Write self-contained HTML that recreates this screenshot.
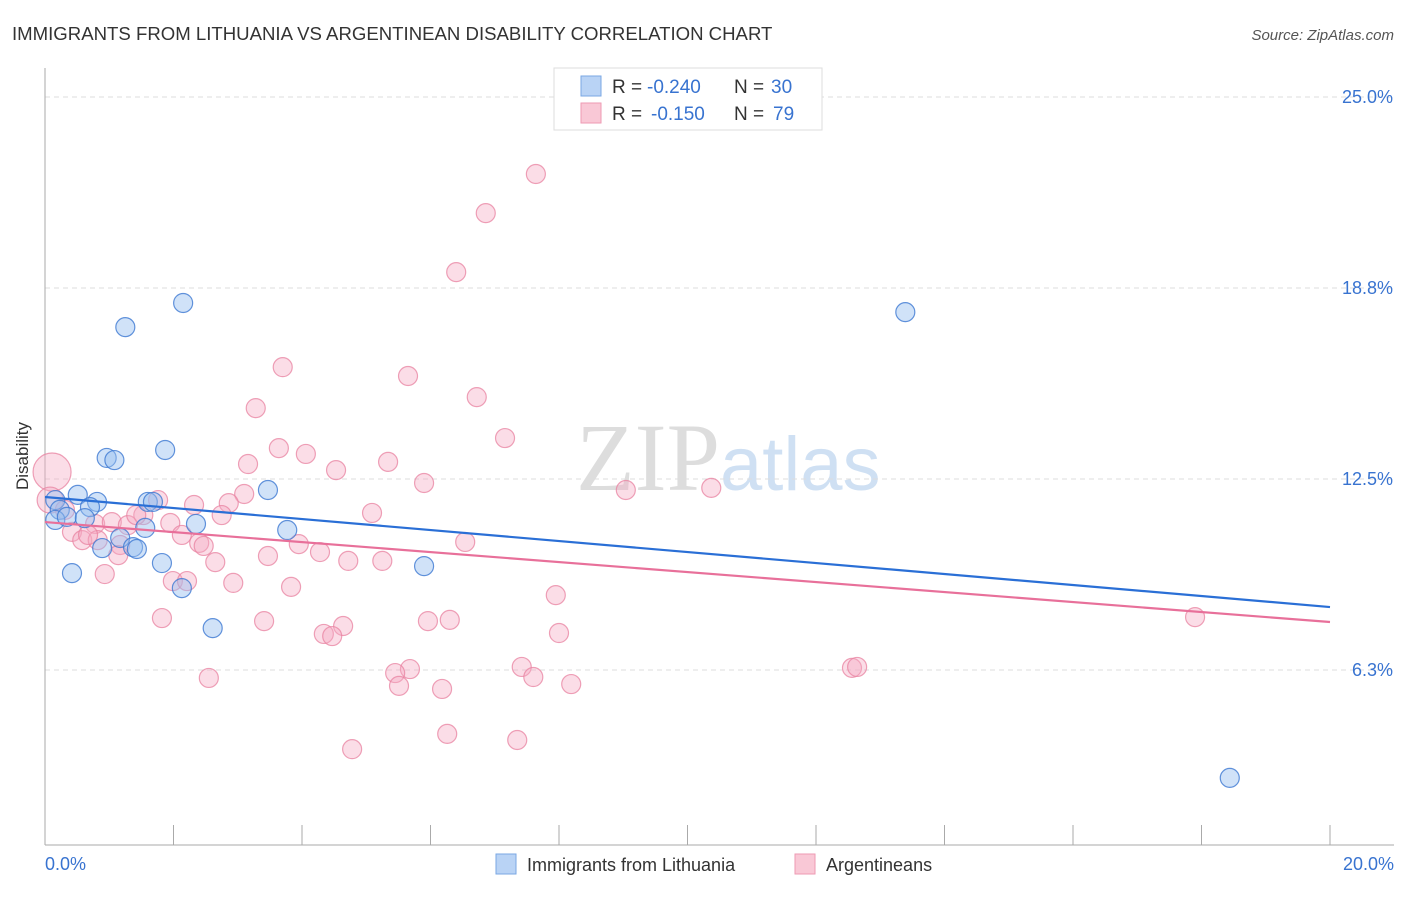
<!DOCTYPE html>
<html><head><meta charset="utf-8"><style>
body{margin:0;background:#fff;font-family:"Liberation Sans",sans-serif;}
</style></head><body>
<svg width="1406" height="892" xmlns="http://www.w3.org/2000/svg" id="chart">
<text x="12" y="40" font-size="18.6" fill="#333">IMMIGRANTS FROM LITHUANIA VS ARGENTINEAN DISABILITY CORRELATION CHART</text>
<text x="1394" y="40" font-size="15" fill="#555" font-style="italic" text-anchor="end">Source: ZipAtlas.com</text>
<text x="720" y="490" font-size="96" fill="#ddd" text-anchor="end" font-family="Liberation Serif,serif">ZIP</text>
<text x="720" y="490" font-size="76" fill="#cfe0f3">atlas</text>
<g id="grid"></g><g id="axes"></g><g id="pts"></g><g id="lines"></g>
<text x="28" y="456" font-size="17" fill="#333" text-anchor="middle" transform="rotate(-90 28 456)">Disability</text>
<g>
<rect x="554" y="68" width="268" height="62" fill="#fff" stroke="#ddd"/>
<rect x="581" y="76" width="20" height="20" fill="#b9d3f5" stroke="#7aa7e3"/>
<rect x="581" y="103" width="20" height="20" fill="#f9c8d6" stroke="#ee9ab3"/>
<text x="612" y="93" font-size="19" fill="#333">R =</text>
<text x="647" y="93" font-size="19" fill="#3873d0">-0.240</text>
<text x="734" y="93" font-size="19" fill="#333">N =</text>
<text x="771" y="93" font-size="19" fill="#3873d0">30</text>
<text x="612" y="120" font-size="19" fill="#333">R =</text>
<text x="651" y="120" font-size="19" fill="#3873d0">-0.150</text>
<text x="734" y="120" font-size="19" fill="#333">N =</text>
<text x="773" y="120" font-size="19" fill="#3873d0">79</text>
</g>
<g>
<rect x="496" y="854" width="20" height="20" fill="#b9d3f5" stroke="#7aa7e3"/>
<text x="527" y="871" font-size="18" fill="#333">Immigrants from Lithuania</text>
<rect x="795" y="854" width="20" height="20" fill="#f9c8d6" stroke="#ee9ab3"/>
<text x="826" y="871" font-size="18" fill="#333">Argentineans</text>
</g>
</svg>
<script>
const yTicks=[25,18.75,12.5,6.25];
const yTickLabels=["25.0%","18.8%","12.5%","6.3%"];
const xTicks=[0,2,4,6,8,10,12,14,16,18,20];
const blueX=[2.15,1.25,13.39,0.96,1.08,1.87,3.47,0.51,0.81,1.60,1.68,0.16,0.23,0.70,0.16,0.34,0.62,2.35,1.56,3.77,1.17,0.89,1.37,1.43,1.82,0.42,2.13,5.90,2.61,18.44];
const blueY=[18.26,17.47,17.96,13.19,13.12,13.45,12.14,11.98,11.75,11.75,11.75,11.81,11.49,11.58,11.16,11.26,11.22,11.03,10.90,10.83,10.57,10.24,10.27,10.21,9.75,9.42,8.93,9.65,7.62,2.72];
const pinkX=[7.64,6.86,6.40,3.70,5.65,3.28,6.72,7.16,3.64,4.06,3.16,4.53,5.34,5.90,9.04,10.37,3.10,1.76,2.86,2.32,0.11,0.08,5.09,2.75,1.53,0.31,0.78,1.04,1.29,1.95,1.42,0.42,0.58,0.82,0.67,1.17,2.13,2.40,2.47,3.95,4.28,1.14,3.47,6.54,2.65,4.72,5.25,0.93,1.99,2.21,2.93,3.83,7.95,1.82,3.41,4.64,4.34,4.47,5.96,6.30,8.00,17.90,12.56,12.64,7.42,5.68,5.45,5.51,6.18,7.60,8.19,2.55,4.78,6.26,7.35];
const pinkY=[22.48,21.20,19.27,16.16,15.87,14.82,15.18,13.84,13.51,13.32,12.99,12.79,13.06,12.37,12.14,12.21,12.01,11.81,11.71,11.65,12.73,11.81,11.39,11.32,11.32,11.49,11.03,11.09,10.99,11.06,11.32,10.77,10.50,10.50,10.67,10.34,10.67,10.41,10.31,10.37,10.11,10.01,9.98,10.44,9.78,9.82,9.82,9.39,9.16,9.16,9.10,8.97,8.70,7.95,7.85,7.69,7.43,7.36,7.85,7.89,7.46,7.98,6.32,6.35,6.35,6.28,6.15,5.73,5.63,6.02,5.79,5.99,3.66,4.16,3.96];
const blueTrend=[11.91,8.31];
const pinkTrend=[11.09,7.82];
const NS="http://www.w3.org/2000/svg";
const X=v=>45+v*64.25, Y=v=>861-v*30.56;
function mk(t,a,p){const e=document.createElementNS(NS,t);for(const k in a)e.setAttribute(k,a[k]);document.getElementById(p).appendChild(e);return e;}
yTicks.forEach((t,i)=>{
 let g=mk('line',{x1:45,x2:1394,y1:Y(t),y2:Y(t),stroke:'#ddd','stroke-dasharray':'5,4'},'grid');
 
 
 let l=mk('text',{x:1393,y:Y(t)+6,'font-size':18,fill:'#3873d0','text-anchor':'end'},'grid');l.textContent=yTickLabels[i];
 
 
});
let ya=mk('line',{x1:45,x2:45,y1:68,y2:845,stroke:'#aaa'},'axes');


let xa=mk('line',{x1:45,x2:1394,y1:845,y2:845,stroke:'#aaa'},'axes');


xTicks.forEach(t=>{let k=mk('line',{x1:X(t),x2:X(t),y1:825,y2:845,stroke:'#aaa'},'axes');
 
 });
let x0=mk('text',{x:45,y:870,'font-size':18,fill:'#3873d0'},'axes');x0.textContent='0.0%';


let x1=mk('text',{x:1394,y:870,'font-size':18,fill:'#3873d0','text-anchor':'end'},'axes');x1.textContent='20.0%';


pinkX.forEach((v,i)=>{const r=i==20?19:(i==21?13:9.5);
 let c=mk('circle',{cx:X(v),cy:Y(pinkY[i]),r:r,fill:'rgba(246,170,195,0.4)',stroke:'rgba(232,130,160,0.75)','stroke-width':1.2},'pts');
 
 });
blueX.forEach((v,i)=>{
 let c=mk('circle',{cx:X(v),cy:Y(blueY[i]),r:9.5,fill:'rgba(150,190,240,0.45)',stroke:'rgba(60,120,210,0.8)','stroke-width':1.2},'pts');
 
 });
let bl=mk('line',{x1:X(0),x2:X(20),y1:Y(blueTrend[0]),y2:Y(blueTrend[1]),stroke:'#2a6fd6','stroke-width':2.2},'lines');


let pl=mk('line',{x1:X(0),x2:X(20),y1:Y(pinkTrend[0]),y2:Y(pinkTrend[1]),stroke:'#e8709a','stroke-width':2.2},'lines');


</script>
</body></html>
